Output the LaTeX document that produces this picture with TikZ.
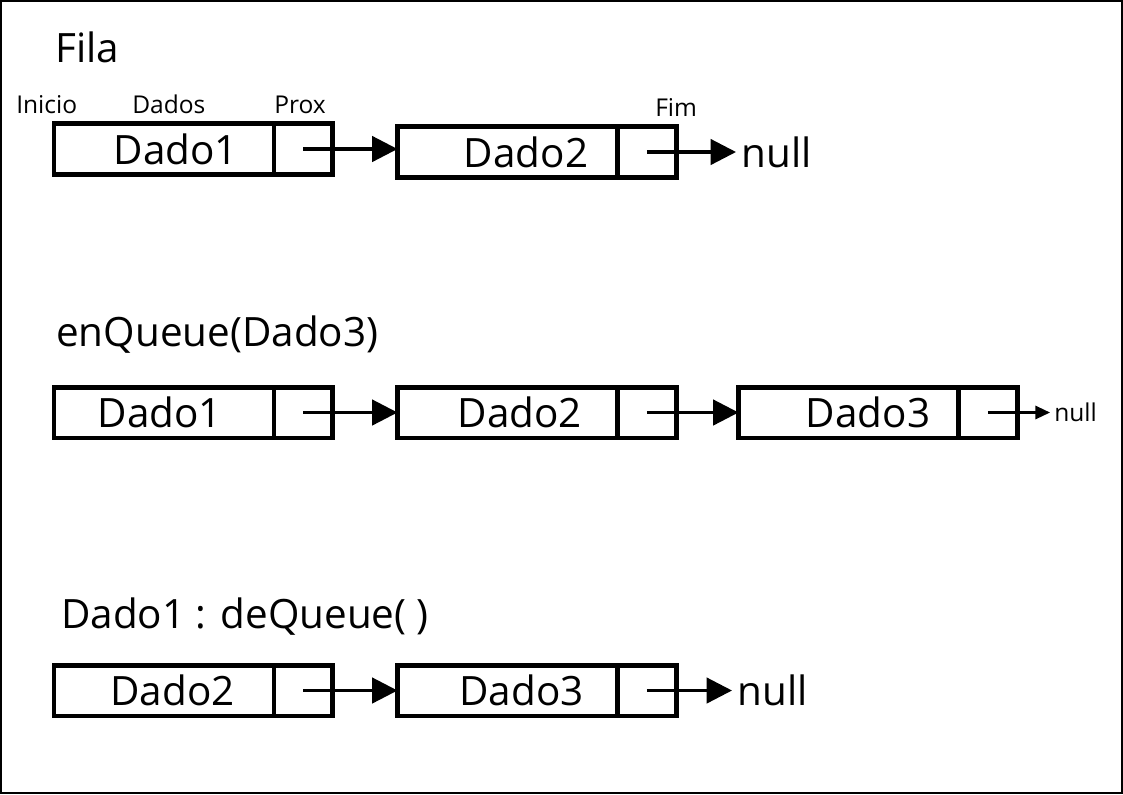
\documentclass[tikz,border=0pt]{standalone}
\usepackage{fontspec}
\setmainfont{Open Sans}
\usetikzlibrary{arrows.meta, positioning, calc}

\begin{document}
\begin{tikzpicture}[x=0.75pt, y=-0.75pt,
  dcell/.style={draw, line width=3.5pt, minimum width=165pt, minimum height=38pt, inner sep=0pt, outer sep=0pt},
  pcell/.style={dcell, minimum width=44pt},
  big/.style={font=\fontsize{30.3}{32}\selectfont, inner sep=0pt},
  small/.style={font=\fontsize{18.4}{20}\selectfont, inner sep=0pt},
  link/.style={-{Triangle[length=19pt, width=19pt]}, line width=2.4pt},
  slink/.style={-{Triangle[length=11pt, width=10pt]}, line width=1.6pt}]
  \useasboundingbox (0,0) rectangle (1123,794);
  \draw[line width=2pt] (1,1) rectangle (1122,793);

  % Fila
  \node[big, anchor=base west] (tFila) at (55,62) {Fila};
  \node[small, anchor=base west] (lIni) at (16,113) {Inicio};
  \node[small, anchor=base west] (lDados) at (132,113) {Dados};
  \node[small, anchor=base west] (lProx) at (274,113) {Prox};
  \node[small, anchor=base west] (lFim) at (655,116) {Fim};

  \node[dcell] (d11) at (164,149) {};
  \node[pcell, right=0pt of d11] (p11) {};
  \node[dcell] (d12) at (507.5,152) {};
  \node[pcell, right=0pt of d12] (p12) {};
  \node[big] (t11) at ($(d11)+(12,0)$) {Dado1};
  \node[big] (t12) at ($(d12)+(18.5,0)$) {Dado2};
  \node[big, anchor=west, inner sep=4pt] (null1) at (736,152) {null};

  \draw[link] (p11.center) -- (p11.center -| d12.west);
  \draw[link] (p12.center) -- (null1.west);

  % enQueue
  \node[big, anchor=base west] (tEnq) at (56,346) {enQueue(Dado3)};

  \node[dcell] (d21) at (164,412.5) {};
  \node[pcell, right=0pt of d21] (p21) {};
  \node[dcell] (d22) at (507.5,412.5) {};
  \node[pcell, right=0pt of d22] (p22) {};
  \node[dcell] (d23) at (848.5,412.5) {};
  \node[pcell, right=0pt of d23] (p23) {};
  \node[big] (t21) at ($(d21)+(-4,0)$) {Dado1};
  \node[big] (t22) at ($(d22)+(12.5,0)$) {Dado2};
  \node[big] (t23) at ($(d23)+(19.5,0)$) {Dado3};
  \node[small, anchor=west, inner sep=3pt] (null2) at (1050,412.5) {null};

  \draw[link] (p21.center) -- (d22.west);
  \draw[link] (p22.center) -- (d23.west);
  \draw[slink] (p23.center) -- (null2.west);

  % deQueue
  \node[big, anchor=base west] (tDeq) at (61,628) {Dado1 : deQueue( )};

  \node[dcell] (d31) at (164,690.5) {};
  \node[pcell, right=0pt of d31] (p31) {};
  \node[dcell] (d32) at (507.5,690.5) {};
  \node[pcell, right=0pt of d32] (p32) {};
  \node[big] (t31) at ($(d31)+(8.5,0)$) {Dado2};
  \node[big] (t32) at ($(d32)+(14,0)$) {Dado3};
  \node[big, anchor=west, inner sep=4pt] (null3) at (732,690.5) {null};

  \draw[link] (p31.center) -- (d32.west);
  \draw[link] (p32.center) -- (null3.west);
\end{tikzpicture}
\end{document}
